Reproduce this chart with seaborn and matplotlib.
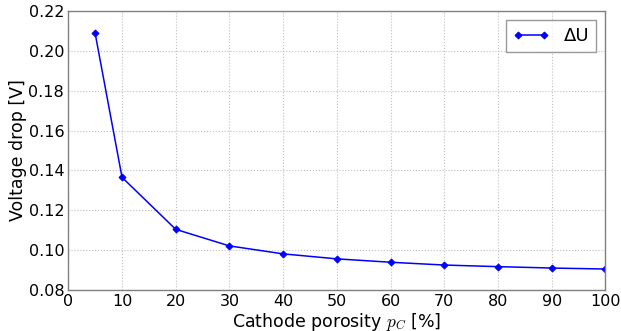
import matplotlib
matplotlib.use("Agg")
import matplotlib.pyplot as plt
import seaborn as sns
import pandas as pd

# Données
porosity = [5, 10, 20, 30, 40, 50, 60, 70, 80, 90, 100]
voltage_drop = [0.2087, 0.1365, 0.1104, 0.1021, 0.0981, 0.0956, 0.0939, 0.0925, 0.0917, 0.0910, 0.0905]
series_label = "ΔU"

df = pd.DataFrame({"porosity": porosity, "dU": voltage_drop})

sns.set_theme(style="white")
plt.rcParams["font.family"] = ["DejaVu Sans"]
plt.rcParams["mathtext.fontset"] = "cm"
plt.rcParams["text.color"] = "black"
plt.rcParams["axes.labelcolor"] = "black"
plt.rcParams["xtick.color"] = "black"
plt.rcParams["ytick.color"] = "black"

fig, ax = plt.subplots(figsize=(6.21, 3.31), dpi=100)
sns.lineplot(data=df, x="porosity", y="dU", ax=ax, color="blue", marker="D",
             markersize=3.5, markeredgecolor="blue", linewidth=1.1, label=series_label)

ax.set_xlim(0, 100)
ax.set_ylim(0.08, 0.22)
ax.set_xticks(range(0, 101, 10))
ax.set_yticks([0.08, 0.10, 0.12, 0.14, 0.16, 0.18, 0.20, 0.22])
ax.set_yticklabels([f"{v:.2f}" for v in ax.get_yticks()])
ax.tick_params(labelsize=11.5, length=0, pad=3)
ax.grid(True, linestyle=":", color="#c0c0c0", linewidth=0.8)
for sp in ax.spines.values():
    sp.set_color("#808080")
    sp.set_linewidth(1.0)

ax.set_xlabel("Cathode porosity $p_C$ [%]", fontsize=12.5, labelpad=1)
ax.set_ylabel("Voltage drop [V]", fontsize=12.5, labelpad=1)

leg = ax.legend(loc="upper right", fontsize=13, frameon=True, fancybox=False,
                edgecolor="#808080", handlelength=2.0, numpoints=2,
                borderaxespad=0.5)
leg.get_frame().set_linewidth(1.0)

fig.subplots_adjust(left=0.11, right=0.975, top=0.967, bottom=0.124)
fig.savefig("out.png", dpi=100)
